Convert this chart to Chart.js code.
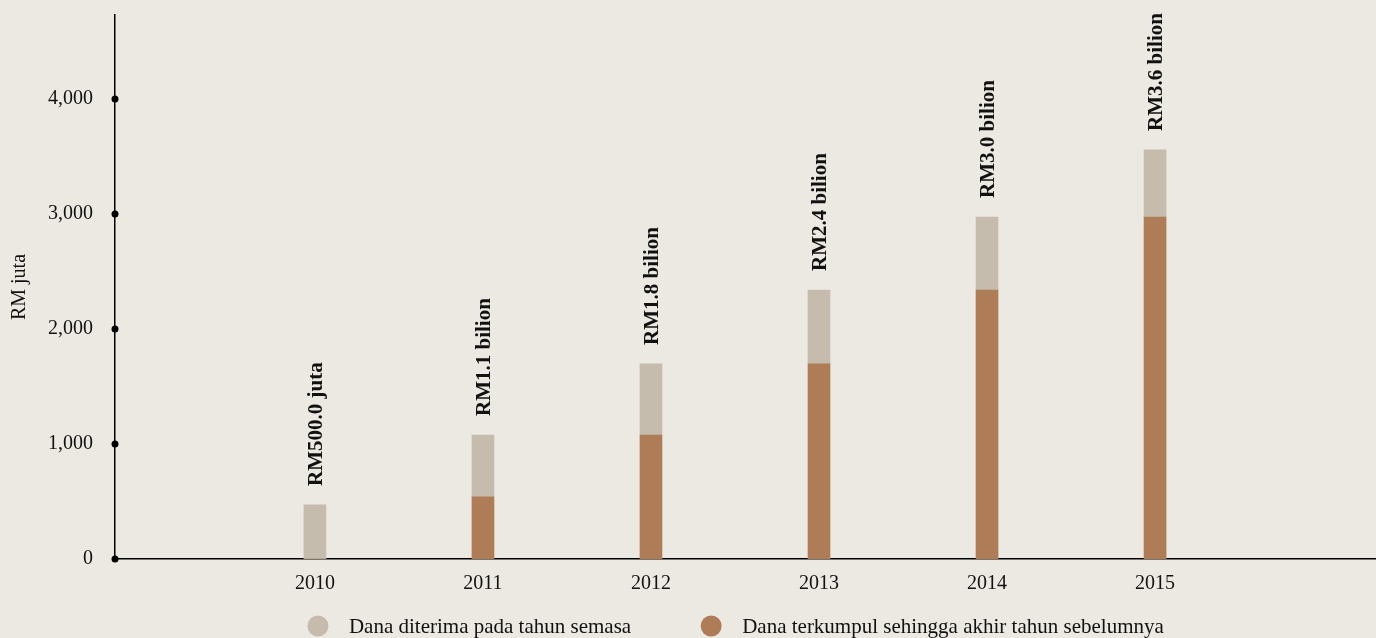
<!DOCTYPE html>
<html>
<head>
<meta charset="utf-8">
<script src="https://cdn.jsdelivr.net/npm/chart.js@4"></script>
<style>
  html, body { margin: 0; padding: 0; background: #ece9e3; }
  #wrap { width: 1376px; height: 638px; position: relative; }
</style>
</head>
<body>
<div id="wrap"><canvas id="dana"></canvas></div>
<script>
// data (RM juta)
const years = [2010, 2011, 2012, 2013, 2014, 2015];
const terkumpul = [0, 540, 1078, 1696, 2339, 2974];   // akhir tahun sebelumnya
const diterima = [470, 538, 618, 643, 635, 583];      // tahun semasa
const barLabels = ['RM500.0 juta', 'RM1.1 bilion', 'RM1.8 bilion', 'RM2.4 bilion', 'RM3.0 bilion', 'RM3.6 bilion'];
const yTicks = [0, 1000, 2000, 3000, 4000];
const legendNames = ['Dana diterima pada tahun semasa', 'Dana terkumpul sehingga akhir tahun sebelumnya'];

const FONT = '"Liberation Serif", "DejaVu Serif", serif';
const LIGHT = '#c5bcad';
const BROWN = '#af7c58';

// titik hitam pada paksi Y
const tickDots = {
    id: 'tickDots',
    afterDraw(chart) {
        const ctx = chart.ctx;
        const y = chart.scales.y;
        ctx.save();
        ctx.fillStyle = '#000';
        yTicks.forEach(t => {
            ctx.beginPath();
            ctx.arc(chart.chartArea.left, y.getPixelForValue(t), 3.5, 0, Math.PI * 2);
            ctx.fill();
        });
        ctx.restore();
    }
};

// label menegak di atas setiap bar
const totalLabels = {
    id: 'totalLabels',
    afterDatasetsDraw(chart) {
        const ctx = chart.ctx;
        const x = chart.scales.x, y = chart.scales.y;
        ctx.save();
        ctx.fillStyle = '#111';
        ctx.font = 'bold 21px ' + FONT;
        ctx.textAlign = 'left';
        ctx.textBaseline = 'middle';
        years.forEach((yr, i) => {
            const top = y.getPixelForValue(terkumpul[i] + diterima[i]);
            ctx.save();
            ctx.translate(x.getPixelForValue(yr) + 2, top - 19);
            ctx.rotate(-Math.PI / 2);
            ctx.fillText(barLabels[i], 0, 0);
            ctx.restore();
        });
        ctx.restore();
    }
};

// legenda bawah
const bottomLegend = {
    id: 'bottomLegend',
    afterDraw(chart) {
        const ctx = chart.ctx;
        const colors = [LIGHT, BROWN];
        let cx = chart.scales.x.getPixelForValue(years[0]) + 3;
        const cy = 626;
        ctx.save();
        ctx.font = '21px ' + FONT;
        ctx.textBaseline = 'middle';
        ctx.textAlign = 'left';
        legendNames.forEach((name, i) => {
            ctx.fillStyle = colors[i];
            ctx.beginPath();
            ctx.arc(cx, cy, 10.5, 0, Math.PI * 2);
            ctx.fill();
            ctx.fillStyle = '#111';
            ctx.fillText(name, cx + 31, cy + 1);
            cx += 31 + ctx.measureText(name).width + 80;
        });
        ctx.restore();
    }
};

new Chart(document.getElementById('dana'), {
    type: 'bar',
    data: {
        datasets: [{
            label: legendNames[1],
            data: years.map((yr, i) => ({ x: yr, y: terkumpul[i] })),
            backgroundColor: BROWN
        }, {
            label: legendNames[0],
            data: years.map((yr, i) => ({ x: yr, y: diterima[i] })),
            backgroundColor: LIGHT
        }]
    },
    options: {
        responsive: true,
        maintainAspectRatio: false,
        animation: false,
        barThickness: 22,
        layout: { padding: { top: 15, right: 0, bottom: 30, left: 0 } },
        plugins: {
            legend: { display: false },
            tooltip: { enabled: false }
        },
        scales: {
            x: {
                type: 'linear',
                stacked: true,
                offset: false,
                min: 2008.81,
                max: 2016.315,
                grid: { display: false },
                border: { display: true, color: '#000', width: 1.5 },
                afterBuildTicks: scale => { scale.ticks = years.map(v => ({ value: v })); },
                afterFit: scale => {
                    scale.height = 49;
                    scale.paddingLeft = 0;
                    scale.paddingRight = 0;
                },
                ticks: {
                    padding: 5,
                    color: '#111',
                    font: { family: FONT, size: 20 },
                    callback: v => String(v)
                }
            },
            y: {
                stacked: true,
                min: 0,
                max: 4730,
                grid: { display: false },
                border: { display: true, color: '#000', width: 1.5 },
                afterBuildTicks: scale => { scale.ticks = yTicks.map(v => ({ value: v })); },
                afterFit: scale => {
                    scale.width = 115;
                    scale.paddingTop = 0;
                    scale.paddingBottom = 0;
                },
                title: {
                    display: true,
                    text: 'RM juta',
                    color: '#111',
                    font: { family: FONT, size: 20 },
                    padding: { top: 8, bottom: 0 }
                },
                ticks: {
                    padding: 14,
                    color: '#111',
                    font: { family: FONT, size: 20 },
                    callback: v => v.toLocaleString('en-US')
                }
            }
        }
    },
    plugins: [tickDots, totalLabels, bottomLegend]
});
</script>
</body>
</html>
